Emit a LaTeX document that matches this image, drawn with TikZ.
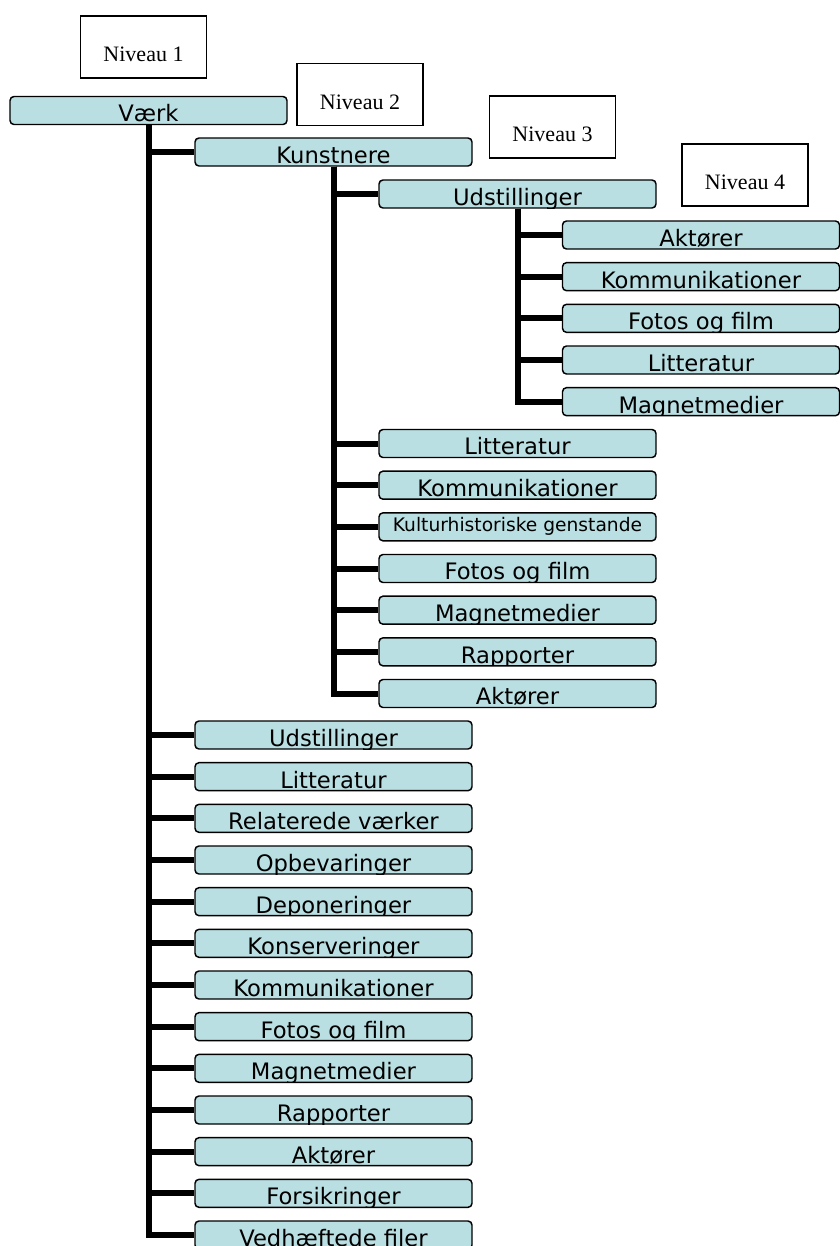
\documentclass[tikz,border=0pt]{standalone}
\usepackage{fontspec}
\newfontfamily\tabfont{DejaVu Sans}
\newfontfamily\nivfont{Liberation Serif}
\usetikzlibrary{positioning}
\definecolor{tabfill}{RGB}{186,223,226}

\begin{document}
\begin{tikzpicture}[x=0.75pt, y=-0.75pt,
  tab/.style={draw=black, line width=1.1pt, rounded corners=3pt, fill=tabfill,
    minimum width=207.75pt, minimum height=21pt, inner sep=0pt,
    path picture={\node[anchor=base, inner sep=0pt, font=\tabfont\fontsize{17}{20}\selectfont]
      at ([yshift=2pt]path picture bounding box.south) {#1};}},
  tabsmall/.style={draw=black, line width=1.1pt, rounded corners=3pt, fill=tabfill,
    minimum width=207.75pt, minimum height=21pt, inner sep=0pt,
    font=\tabfont\fontsize{14}{16}\selectfont},
  niv/.style={draw=black, line width=1.1pt, fill=white, minimum width=94.5pt,
    minimum height=46.5pt, inner sep=0pt, font=\nivfont\fontsize{16.5}{19}\selectfont,
    text height=21.8pt, text depth=0pt},
  trunk/.style={line width=4.5pt, black, line join=miter},
  node distance=9.15pt]
\useasboundingbox (0,0) rectangle (839,1246);

% level labels
\node[niv] (niv1) at (143.5,47) {Niveau 1};
\node[niv] (niv2) at (360,94.5) {Niveau 2};
\node[niv] (niv3) at (552.5,127) {Niveau 3};
\node[niv] (niv4) at (745,175) {Niveau 4};

% level 1 and 2 heads
\node[tab=Værk] (vaerk) at (148.5,110.5) {};
\node[tab=Kunstnere] (kunst) at (333.5,152) {};
\node[tab=Udstillinger] (udst) at (517.5,194) {};

% level 4
\node[tab=Aktører] (aktA) at (701,235) {};
\node[tab=Kommunikationer, below=of aktA] (komA) {};
\node[tab=Fotos og film, below=of komA] (fotA) {};
\node[tab=Litteratur, below=of fotA] (litA) {};
\node[tab=Magnetmedier, below=of litA] (magA) {};

% level 3
\node[tab=Litteratur] (litB) at (517.5,443.5) {};
\node[tab=Kommunikationer, below=of litB] (komB) {};
\node[tabsmall, below=of komB] (kulB) {Kulturhistoriske genstande};
\node[tab=Fotos og film, below=of kulB] (fotB) {};
\node[tab=Magnetmedier, below=of fotB] (magB) {};
\node[tab=Rapporter, below=of magB] (rapB) {};
\node[tab=Aktører, below=of rapB] (aktB) {};

% level 2
\node[tab=Udstillinger] (udsC) at (333.5,735) {};
\node[tab=Litteratur, below=of udsC] (litC) {};
\node[tab=Relaterede værker, below=of litC] (relC) {};
\node[tab=Opbevaringer, below=of relC] (opbC) {};
\node[tab=Deponeringer, below=of opbC] (depC) {};
\node[tab=Konserveringer, below=of depC] (konC) {};
\node[tab=Kommunikationer, below=of konC] (komC) {};
\node[tab=Fotos og film, below=of komC] (fotC) {};
\node[tab=Magnetmedier, below=of fotC] (magC) {};
\node[tab=Rapporter, below=of magC] (rapC) {};
\node[tab=Aktører, below=of rapC] (aktC) {};
\node[tab=Forsikringer, below=of aktC] (forC) {};
\node[tab=Vedhæftede filer, below=of forC] (vedC) {};

% connectors
\foreach \n in {kunst,udsC,litC,relC,opbC,depC,konC,komC,fotC,magC,rapC,aktC,forC,vedC}
  \draw[trunk] (vaerk.south) |- (\n.west);
\foreach \n in {udst,litB,komB,kulB,fotB,magB,rapB,aktB}
  \draw[trunk] (kunst.south) |- (\n.west);
\foreach \n in {aktA,komA,fotA,litA,magA}
  \draw[trunk] (udst.south) |- (\n.west);
\end{tikzpicture}
\end{document}
